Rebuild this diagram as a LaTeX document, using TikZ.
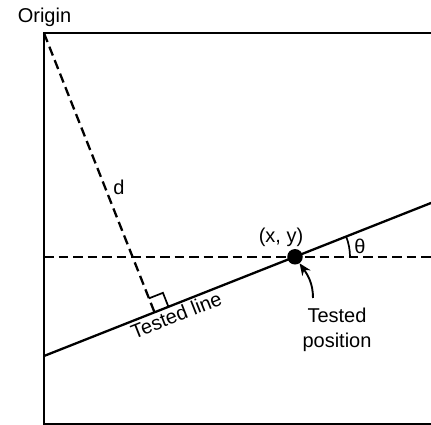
\documentclass[tikz,border=0pt]{standalone}
\usepackage{fontspec}
\usepackage{graphicx}
\setmainfont{Liberation Sans}
\usetikzlibrary{calc,arrows.meta}
\begin{document}
\begin{tikzpicture}[x=1pt,y=1pt,
  every node/.style={font=\fontsize{20}{25}\selectfont, inner sep=0pt},
  frameline/.style={line width=2.3pt},
  solidline/.style={line width=2.3pt},
  dashline/.style={line width=2.3pt, dash pattern=on 9.5pt off 5pt},
  markline/.style={line width=1.7pt},
  ptr/.style={line width=1.9pt, -{Stealth[length=12pt,width=10pt]}}]
\useasboundingbox (0,0) rectangle (431,425);
% frame
\coordinate (O) at (44,391.8);
\coordinate (TR) at (433,391.8);
\coordinate (BL) at (44,1.3);
\coordinate (BR) at (433,1.3);
\draw[frameline] (TR) -- (O) -- (BL) -- (BR);
% tested line
\coordinate (L0) at (44,69);
\coordinate (L1) at (433,222.8);
\draw[solidline] (L0) -- (L1);
% horizontal dashed
\coordinate (H0) at (44,168.2);
\coordinate (H1) at (433,168.2);
\draw[dashline] (H0) -- (H1);
% perpendicular
\coordinate (F) at (154.5,112.7);
\draw[dashline] (O) -- (F);
\coordinate (Fa) at ($(F)!15pt!(O)$);
\coordinate (Fb) at ($(F)!15pt!(L1)$);
\coordinate (Fc) at ($(Fa)+(Fb)-(F)$);
\draw[markline] (Fa) -- (Fc) -- (Fb);
% point
\node[circle, fill=black, minimum size=15.5pt] (P) at (295,168.2) {};
% angle arc
\coordinate (A0) at (350,168.2);
\draw[markline] (A0) arc[start angle=0, end angle=21.57, radius=55pt];
% labels
\node[anchor=base] (origin) at (44.5,402.3) {Origin};
\node (dlab) at (119,238) {d};
\node (xy) at (281,187.5) {(x, y)};
\node (theta) at (360,179) {θ};
\coordinate (TL) at ($(L0)!0.33!(L1)+(3.8,-9.6)$);
\node (tl) at (TL) {\rotatebox{21.57}{Tested line}};
\node[align=center] (tp) at (337,95) {Tested\\position};
\coordinate (AS) at (313,127);
\draw[ptr] (AS) to[out=90, in=-55] (P);
\end{tikzpicture}
\end{document}
